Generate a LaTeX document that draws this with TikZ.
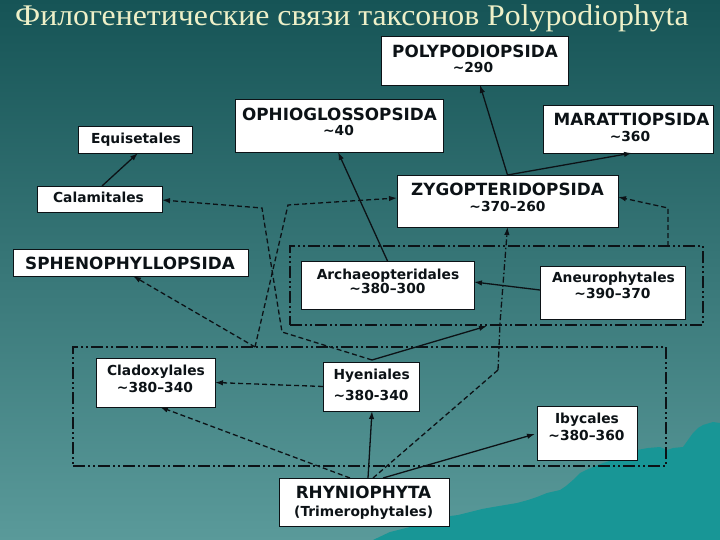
\documentclass[tikz,border=0pt]{standalone}
\usepackage{fontspec}
\setmainfont{Liberation Serif}
\newfontfamily\titlefont[FakeStretch=1.06]{Liberation Serif}
\newfontfamily\boxfont{DejaVu Sans}
\usetikzlibrary{calc,arrows.meta}
\definecolor{bgtop}{RGB}{22,84,86}
\definecolor{bgmid}{RGB}{56,122,122}
\definecolor{bgbot}{RGB}{90,154,154}
\definecolor{blobc}{RGB}{24,150,150}
\definecolor{titlecol}{RGB}{238,240,200}
\definecolor{ink}{RGB}{12,18,22}
\tikzset{
  box/.style={draw=ink, fill=white, line width=0.8pt, inner sep=0pt, outer sep=0pt},
  bigtxt/.style={font=\boxfont\bfseries\fontsize{16.8}{18}\selectfont, text=ink, inner sep=0pt, anchor=base},
  smalltxt/.style={font=\boxfont\bfseries\fontsize{13.8}{16}\selectfont, text=ink, inner sep=0pt, anchor=base},
  solidarr/.style={draw=ink, line width=1.3pt, -{Latex[length=8pt,width=5.5pt]}},
  dasharr/.style={solidarr, dash pattern=on 5pt off 3pt},
  dashline/.style={draw=ink, line width=1.3pt, dash pattern=on 5pt off 3pt},
  dotarr/.style={solidarr, dash pattern=on 6pt off 2.5pt on 1.5pt off 2.5pt},
  grp/.style={draw=ink, line width=1.8pt, dash pattern=on 12pt off 3pt on 2pt off 3pt on 2pt off 3pt, inner sep=0pt, outer sep=0pt}
}
\begin{document}
\begin{tikzpicture}[x=1pt,y=-1pt]
\useasboundingbox (0,0) rectangle (720,540);
\shade[top color=bgtop, middle color=bgmid, bottom color=bgbot] (0,0) rectangle (720,540);
% landscape silhouette
\fill[blobc] (370,540) -- (373,540) -- (390,532) -- (410,527) -- (428,521) -- (443,517) -- (458,515) -- (470,512)
  -- (482,509) -- (493,507) -- (505,505) -- (517,503) -- (528,500) -- (537,497) -- (547,493) -- (560,490)
  -- (566,486) -- (573,480) -- (580,473) -- (586,470) -- (593,467) -- (603,463) -- (613,460) -- (625,455)
  -- (637,450) -- (648,448) -- (660,447) -- (667,450) -- (673,448) -- (683,447) -- (688,440) -- (693,433)
  -- (698,428) -- (703,425) -- (713,422) -- (720,423) -- (720,540) -- cycle;

\node[anchor=base west, text=titlecol, font=\titlefont\fontsize{30}{32}\selectfont, inner sep=0pt] (title) at (15,26)
  {Филогенетические связи таксонов Polypodiophyta};

% groups
\node[grp, minimum width=413, minimum height=79] (grp1) at (496.5,285.5) {};
\node[grp, minimum width=593, minimum height=119] (grp2) at (369.5,406.5) {};

% boxes
\node[box, minimum width=187, minimum height=49] (poly) at (474.5,60.5) {};
\node[box, minimum width=208, minimum height=53] (ophio) at (339,125.5) {};
\node[box, minimum width=114, minimum height=27] (equi) at (135,139.5) {};
\node[box, minimum width=170, minimum height=48] (marat) at (628,129) {};
\node[box, minimum width=125, minimum height=26] (calam) at (99.5,199) {};
\node[box, minimum width=221, minimum height=52] (zygo) at (507.5,201) {};
\node[box, minimum width=235, minimum height=27] (spheno) at (130.5,262.5) {};
\node[box, minimum width=173, minimum height=48] (archae) at (387.5,285) {};
\node[box, minimum width=145, minimum height=53] (aneuro) at (612.5,292.5) {};
\node[box, minimum width=119, minimum height=49] (cladox) at (155.5,382.5) {};
\node[box, minimum width=96, minimum height=49] (hyen) at (371,386.5) {};
\node[box, minimum width=100, minimum height=54] (ibyc) at (587,433) {};
\node[box, minimum width=170, minimum height=48] (rhynio) at (364,502) {};

% helper coordinates
\coordinate (a1) at (282,332);
\coordinate (a2) at (262,208);
\coordinate (jb) at ($(grp2.north)+(-114.5,0)$);
\coordinate (b1) at (288,205);
\coordinate (c1) at (498,370);
\coordinate (c2) at (500,323);
\coordinate (d1) at (668,208);

% connectors
\draw[solidarr] ($(calam.north)+(2.5,0)$) -- ($(equi.south)+(3,0)$);
\draw[solidarr] (zygo.north) -- ($(poly.south)+(5.5,0)$);
\draw[solidarr] (zygo.north) -- ($(marat.south)+(4,0)$);
\draw[solidarr] (archae.north) -- ($(ophio.south)+(-1,0)$);
\draw[dasharr] ($(hyen.north)+(1,-2)$) -- (a1) -- (a2) -- ($(calam.east)+(0,1)$);
\draw[dasharr] (jb) -- (b1) -- ($(zygo.west)+(0,-3)$);
\draw[dasharr] (jb) -- ($(spheno.south)+(2.5,0)$);
\draw[dashline] ($(rhynio.north)+(9,0)$) -- (c1);
\draw[dotarr] (c1) -- (c2) -- (zygo.south);
\draw[solidarr] ($(aneuro.west)+(0,-2.5)$) -- ($(archae.east)+(0,-3)$);
\draw[dasharr] ($(grp1.north)+(171.5,0)$) -- (d1) -- ($(zygo.east)+(0,-4)$);
\draw[dasharr] (hyen.west) -- (cladox.east);
\draw[dasharr] ($(rhynio.north)+(-14,0)$) -- ($(cladox.south)+(4.5,0)$);
\draw[solidarr] ($(rhynio.north)+(4,0)$) -- ($(hyen.south)+(1,0)$);
\draw[solidarr] ($(rhynio.north)+(19,0)$) -- ($(ibyc.west)+(-2,1)$);
\draw[solidarr] ($(hyen.north)+(1,-2)$) -- ($(grp1.south)+(-9.5,1)$);

% texts
\node[bigtxt] (tpoly1) at (475,57.6) {POLYPODIOPSIDA};
\node[smalltxt] (tpoly2) at (473,73) {\textasciitilde290};
\node[bigtxt] (tophio1) at (339.5,120.1) {OPHIOGLOSSOPSIDA};
\node[smalltxt] (tophio2) at (338.5,136) {\textasciitilde40};
\node[bigtxt] (tmarat1) at (631.5,125.6) {MARATTIOPSIDA};
\node[smalltxt] (tmarat2) at (630,141.7) {\textasciitilde360};
\node[smalltxt] (tequi) at (136,143.7) {Equisetales};
\node[smalltxt] (tcalam) at (98.5,202.7) {Calamitales};
\node[bigtxt] (tzygo1) at (507.5,195.6) {ZYGOPTERIDOPSIDA};
\node[smalltxt] (tzygo2) at (507.5,211.7) {\textasciitilde370–260};
\node[bigtxt] (tspheno) at (130,269.8) {SPHENOPHYLLOPSIDA};
\node[smalltxt] (tarchae1) at (388,279) {Archaeopteridales};
\node[smalltxt] (tarchae2) at (387.5,293.7) {\textasciitilde380–300};
\node[smalltxt] (taneuro1) at (613.5,282.5) {Aneurophytales};
\node[smalltxt] (taneuro2) at (612.5,298.7) {\textasciitilde390–370};
\node[smalltxt] (tcladox1) at (156,375.7) {Cladoxylales};
\node[smalltxt] (tcladox2) at (155,392.3) {\textasciitilde380–340};
\node[smalltxt] (thyen1) at (371.7,379.7) {Hyeniales};
\node[smalltxt] (thyen2) at (371,400.7) {\textasciitilde380-340};
\node[smalltxt] (tibyc1) at (587,423) {Ibycales};
\node[smalltxt] (tibyc2) at (586.5,440) {\textasciitilde380–360};
\node[bigtxt] (trhynio1) at (363.5,498.1) {RHYNIOPHYTA};
\node[smalltxt] (trhynio2) at (363.7,516) {(Trimerophytales)};
\end{tikzpicture}
\end{document}
